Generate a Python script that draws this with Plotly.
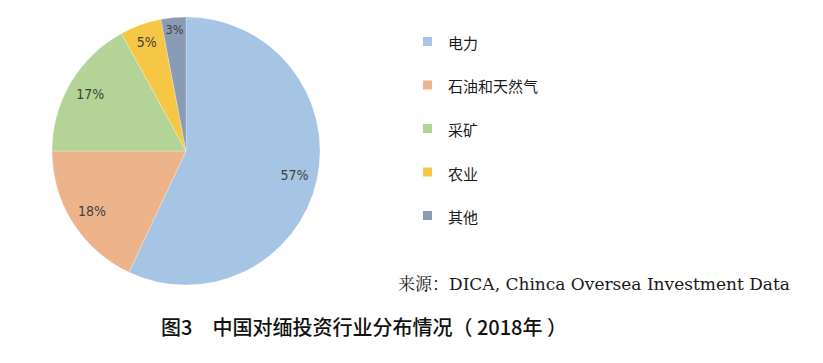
import plotly.graph_objects as go

categories = ["电力", "石油和天然气", "采矿", "农业", "其他"]
values = [57, 18, 17, 5, 3]
colors = ["#A6C4E4", "#EDB48C", "#B4D396", "#F5C745", "#8A9BB4"]
source_text = "来源：DICA, Chinca Oversea Investment Data"
caption_text = "图3　中国对缅投资行业分布情况（ 2018年 ）"

W, H = 823, 363
pie_domain = dict(x=[52 / W, 320 / W], y=[1 - 285 / H, 1 - 17 / H])

fig = go.Figure()
# filled pie
fig.add_trace(go.Pie(
    labels=categories, values=values, sort=False, direction="clockwise", rotation=0,
    marker=dict(colors=colors, line=dict(color="rgba(255,255,255,0.5)", width=0.5)),
    textinfo="none", domain=pie_domain, showlegend=False, hoverinfo="label+percent",
))
# transparent ring that carries the percentage labels near the rim
fig.add_trace(go.Pie(
    labels=categories, values=values, sort=False, direction="clockwise", rotation=0, hole=0.66,
    marker=dict(colors=["rgba(0,0,0,0)"] * len(values), line=dict(width=0)),
    texttemplate="%{percent:.0%}", textposition="inside", insidetextorientation="horizontal",
    textfont=dict(family="Liberation Sans Narrow, DejaVu Sans Condensed, Liberation Sans", size=14, color="#404040"),
    domain=pie_domain, showlegend=False, hoverinfo="skip",
))

shapes = []
annotations = []
leg_y0 = 41.5
leg_dy = 43.5
for i, (cat, col) in enumerate(zip(categories, colors)):
    yc = leg_y0 + i * leg_dy
    shapes.append(dict(type="rect", xref="paper", yref="paper",
                       x0=423 / W, x1=432 / W, y0=1 - (yc + 4.5) / H, y1=1 - (yc - 4.5) / H,
                       fillcolor=col, line=dict(width=0)))
    annotations.append(dict(text=cat, xref="paper", yref="paper", x=446 / W, y=1 - (yc + 1) / H,
                            xanchor="left", yanchor="middle", showarrow=False,
                            font=dict(family="Noto Sans CJK SC", size=15, color="#1a1a1a")))

annotations.append(dict(text=source_text, xref="paper", yref="paper", x=396 / W, y=1 - 284 / H,
                        xanchor="left", yanchor="middle", showarrow=False,
                        font=dict(family="DejaVu Serif, Noto Serif CJK SC, serif", size=17, color="#1a1a1a")))
annotations.append(dict(text=caption_text, xref="paper", yref="paper", x=159 / W, y=1 - 326 / H,
                        xanchor="left", yanchor="middle", showarrow=False,
                        font=dict(family="Noto Sans CJK SC", size=20, color="#111111", weight=500)))

fig.update_layout(width=W, height=H, margin=dict(l=0, r=0, t=0, b=0),
                  paper_bgcolor="white", plot_bgcolor="white",
                  shapes=shapes, annotations=annotations)
fig.write_html("out.html", config={"displayModeBar": False},
               post_script="document.body.style.margin='0';")
